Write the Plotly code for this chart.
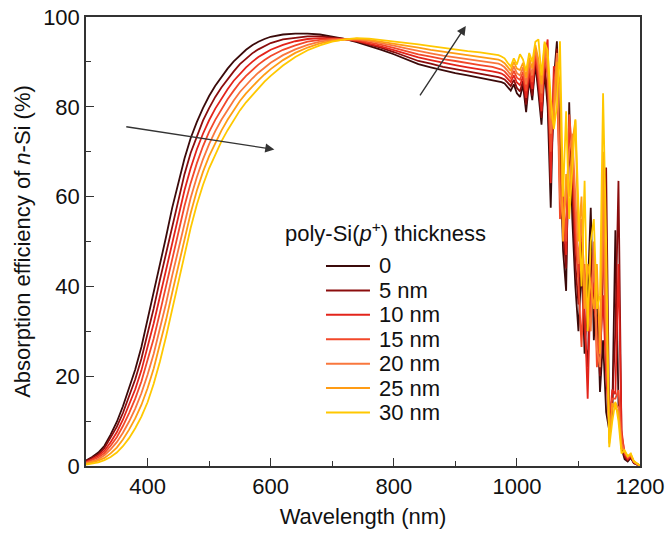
import plotly.graph_objects as go

# Wavelength grid (nm)
wavelength = list(range(300, 610, 10)) + list(range(620, 980, 20)) + list(range(970, 1205, 5))

legend_labels = ["0", "5 nm", "10 nm", "15 nm", "20 nm", "25 nm", "30 nm"]
line_colors = ["#3b0a0a", "#8b0d0d", "#e3241b", "#f2482a", "#f9773d", "#ff9c14", "#ffc800"]

abs_0nm = [1.2, 2.0, 3.0, 4.5, 7.0, 9.8, 13.3, 17.3, 21.5, 26.5, 32.5, 38.5, 45.0, 51.0, 57.5, 63.3,
           68.5, 73.0, 76.6, 79.7, 82.4, 84.7, 86.7, 88.5, 90.1, 91.5, 92.7, 93.7, 94.5, 95.1, 95.6,
           96.1, 96.3, 96.3, 96.1, 95.6, 95.1, 94.4, 93.6, 92.7, 91.7, 90.6, 89.5, 88.8, 88.1, 87.5, 87.0, 86.5, 86.0,
           85.7, 85.5, 85.2, 84.4, 83.6, 85.0, 83.0, 82.2, 84.8, 78.8, 86.0, 81.5, 89.5, 83.0, 76.0, 88.0, 80.0,
           57.5, 86.0, 94.6, 72.0, 48.0, 39.0, 81.0, 55.0, 40.0, 30.0, 45.0, 25.0, 38.0, 57.5, 28.0, 40.0,
           16.5, 28.0, 12.0, 8.0, 12.0, 52.5, 14.0, 4.0, 1.5, 1.0, 1.8, 0.6, 0.3, 0.1]
abs_5nm = [1.1, 1.8, 2.6, 4.0, 6.2, 8.7, 11.8, 15.5, 19.3, 23.9, 29.5, 35.1, 41.4, 47.3, 53.7, 59.6,
           65.0, 69.7, 73.5, 76.9, 79.7, 82.2, 84.3, 86.2, 87.9, 89.5, 90.8, 91.9, 92.8, 93.5, 94.2,
           95.0, 95.4, 95.7, 95.7, 95.4, 95.1, 94.6, 93.9, 93.1, 92.2, 91.2, 90.2, 89.6, 88.9, 88.4, 87.9, 87.4, 87.0,
           86.6, 86.4, 86.1, 85.4, 84.6, 86.0, 84.2, 83.4, 85.8, 80.5, 87.0, 82.5, 90.5, 84.5, 77.5, 89.5, 82.0,
           66.0, 80.0, 93.0, 66.0, 52.0, 44.0, 72.0, 62.0, 45.0, 36.0, 50.0, 30.0, 22.0, 48.0, 35.0, 33.0,
           20.0, 45.0, 66.5, 10.0, 14.0, 30.0, 63.5, 6.0, 2.0, 1.3, 2.0, 0.7, 0.3, 0.1]
abs_10nm = [0.9, 1.5, 2.3, 3.4, 5.3, 7.5, 10.3, 13.6, 17.1, 21.3, 26.4, 31.8, 37.7, 43.6, 49.9, 55.9,
            61.4, 66.3, 70.5, 74.0, 77.0, 79.6, 81.9, 83.9, 85.8, 87.4, 88.8, 90.0, 91.1, 91.9, 92.7,
            93.8, 94.6, 95.1, 95.3, 95.2, 95.1, 94.7, 94.1, 93.4, 92.6, 91.8, 91.0, 90.4, 89.8, 89.3, 88.8, 88.4, 87.9,
            87.6, 87.4, 87.0, 86.3, 85.5, 87.0, 85.4, 84.8, 86.8, 82.0, 88.0, 84.0, 91.5, 86.0, 79.0, 91.0, 95.0,
            63.0, 89.0, 88.0, 62.0, 58.0, 47.0, 75.0, 68.0, 50.0, 42.0, 55.0, 35.0, 15.0, 42.0, 40.0, 28.0,
            25.0, 38.0, 20.0, 9.0, 17.0, 16.0, 45.0, 8.0, 2.5, 1.5, 2.2, 0.8, 0.4, 0.1]
abs_15nm = [0.8, 1.3, 1.9, 2.9, 4.5, 6.4, 8.9, 11.8, 15.0, 18.8, 23.4, 28.4, 34.1, 39.9, 46.2, 52.2,
            57.9, 63.0, 67.4, 71.2, 74.4, 77.1, 79.5, 81.7, 83.6, 85.4, 86.9, 88.2, 89.4, 90.4, 91.3,
            92.7, 93.7, 94.5, 94.9, 95.1, 95.1, 94.9, 94.4, 93.8, 93.1, 92.4, 91.7, 91.2, 90.6, 90.2, 89.7, 89.3, 88.9,
            88.6, 88.3, 87.9, 87.2, 86.3, 88.0, 86.5, 86.0, 87.8, 83.5, 89.0, 85.5, 92.5, 87.5, 81.0, 92.0, 86.5,
            70.0, 84.0, 91.0, 55.0, 62.0, 50.0, 78.3, 70.0, 55.0, 40.0, 26.5, 45.0, 30.0, 36.0, 47.0, 22.0,
            30.0, 50.0, 25.0, 12.0, 15.0, 15.0, 16.9, 7.0, 3.0, 1.8, 2.4, 0.9, 0.4, 0.1]
abs_20nm = [0.6, 1.0, 1.5, 2.4, 3.7, 5.3, 7.4, 9.9, 12.8, 16.2, 20.3, 25.0, 30.5, 36.2, 42.4, 48.4,
            54.3, 59.7, 64.3, 68.3, 71.7, 74.6, 77.1, 79.4, 81.4, 83.3, 84.9, 86.3, 87.6, 88.8, 89.8,
            91.5, 92.8, 93.8, 94.5, 94.9, 95.0, 95.0, 94.7, 94.2, 93.6, 93.0, 92.4, 91.9, 91.4, 91.0, 90.6, 90.2, 89.9,
            89.6, 89.3, 88.8, 88.0, 87.1, 89.0, 87.5, 87.0, 88.8, 85.0, 90.0, 87.0, 93.0, 89.0, 83.0, 93.0, 88.5,
            74.0, 80.0, 92.0, 60.0, 55.0, 60.0, 70.0, 74.0, 60.0, 45.0, 55.0, 40.0, 35.0, 30.0, 50.0, 26.0,
            22.0, 60.0, 30.0, 6.0, 13.0, 14.0, 13.0, 5.0, 3.0, 2.0, 2.5, 1.0, 0.4, 0.1]
abs_25nm = [0.5, 0.8, 1.2, 1.8, 2.8, 4.1, 5.9, 8.1, 10.6, 13.6, 17.3, 21.7, 26.8, 32.5, 38.6, 44.7,
            50.8, 56.3, 61.3, 65.5, 69.0, 72.0, 74.7, 77.1, 79.3, 81.3, 83.0, 84.5, 85.9, 87.2, 88.4,
            90.4, 92.0, 93.2, 94.1, 94.7, 95.0, 95.2, 94.9, 94.5, 94.0, 93.6, 93.2, 92.7, 92.3, 91.9, 91.5, 91.2, 90.8,
            90.5, 90.2, 89.7, 88.9, 88.0, 90.0, 88.5, 88.2, 89.8, 86.5, 91.0, 88.5, 93.8, 90.5, 85.0, 94.0, 90.5,
            78.0, 76.0, 90.0, 85.0, 50.0, 65.0, 60.0, 72.0, 77.0, 50.0, 60.0, 35.0, 45.0, 40.0, 35.0, 45.0,
            25.0, 70.0, 40.0, 5.0, 14.0, 13.0, 12.0, 4.0, 3.2, 2.1, 2.6, 1.0, 0.5, 0.1]
abs_30nm = [0.3, 0.5, 0.8, 1.3, 2.0, 3.0, 4.4, 6.2, 8.4, 11.0, 14.2, 18.3, 23.2, 28.8, 34.8, 41.0,
            47.2, 53.0, 58.2, 62.6, 66.3, 69.5, 72.3, 74.8, 77.1, 79.2, 81.0, 82.6, 84.2, 85.6, 86.9,
            89.2, 91.1, 92.6, 93.7, 94.5, 95.0, 95.3, 95.2, 94.9, 94.5, 94.2, 93.9, 93.5, 93.1, 92.8, 92.4, 92.1, 91.8,
            91.5, 91.2, 90.8, 89.8, 89.0, 90.8, 89.4, 91.7, 90.5, 88.0, 92.0, 90.0, 94.5, 95.0, 87.0, 94.5, 92.5,
            82.0, 75.0, 80.0, 94.6, 60.0, 79.0, 55.0, 66.0, 77.2, 58.0, 40.0, 63.5, 30.0, 50.0, 55.0, 35.0,
            38.0, 83.0, 50.0, 4.2, 10.0, 14.3, 10.0, 2.8, 3.5, 2.2, 2.8, 1.1, 0.5, 0.1]

series = [abs_0nm, abs_5nm, abs_10nm, abs_15nm, abs_20nm, abs_25nm, abs_30nm]

FONT = "Arial, Liberation Sans, sans-serif"
TXT = "#111111"

fig = go.Figure()
for name, color, vals in zip(legend_labels, line_colors, series):
    fig.add_trace(go.Scatter(x=wavelength, y=vals, mode="lines", name=name,
                             line=dict(color=color, width=1.8), showlegend=False))

axis_common = dict(showline=True, linecolor="#333333", linewidth=1.5, mirror=True,
                   ticks="inside", ticklen=8, tickwidth=1.2, tickcolor="#333333",
                   showgrid=False, zeroline=False, automargin=False,
                   tickfont=dict(family=FONT, size=22, color=TXT))

fig.update_xaxes(range=[300, 1200], tickvals=[400, 600, 800, 1000, 1200],
                 minor=dict(dtick=100, tick0=300, ticks="inside", ticklen=5, tickcolor="#333333"),
                 title=dict(text="Wavelength (nm)", font=dict(family=FONT, size=22, color=TXT), standoff=10),
                 **axis_common)
fig.update_yaxes(range=[0, 100], tickvals=[0, 20, 40, 60, 80, 100],
                 minor=dict(dtick=10, ticks="inside", ticklen=5, tickcolor="#333333"),
                 title=dict(text="Absorption efficiency of <i>n</i>-Si (%)",
                            font=dict(family=FONT, size=22, color=TXT), standoff=6),
                 **axis_common)

arrow_style = dict(showarrow=True, arrowhead=2, arrowsize=1.3, arrowwidth=1.4,
                   arrowcolor="#333333", axref="x", ayref="y", xref="x", yref="y", text="")
fig.add_annotation(x=606, y=70.5, ax=363, ay=75.6, **arrow_style)
fig.add_annotation(x=917, y=98.0, ax=841, ay=82.2, **arrow_style)

# Legend (drawn as line samples + text labels, matching the reference spacing)
fig.add_annotation(x=0.5413, y=0.522, xref="paper", yref="paper", showarrow=False,
                   text="poly-Si(<i>p</i><sup>+</sup>) thickness",
                   font=dict(family=FONT, size=22, color=TXT), xanchor="center", yanchor="middle")
leg_x0, leg_x1, leg_tx = 0.4332, 0.5126, 0.5253
leg_y0, leg_dy = 0.4455, 0.0544
for i, (name, color) in enumerate(zip(legend_labels, line_colors)):
    yy = leg_y0 - i * leg_dy
    fig.add_shape(type="line", xref="paper", yref="paper", x0=leg_x0, x1=leg_x1, y0=yy, y1=yy,
                  line=dict(color=color, width=2))
    fig.add_annotation(x=leg_tx, y=yy, xref="paper", yref="paper", showarrow=False, text=name,
                       font=dict(family=FONT, size=22, color=TXT), xanchor="left", yanchor="middle")

fig.update_layout(
    width=668, height=537,
    margin=dict(l=86, r=28, t=17, b=71),
    paper_bgcolor="white", plot_bgcolor="white",
    showlegend=False,
)

fig.write_html("out.html")
